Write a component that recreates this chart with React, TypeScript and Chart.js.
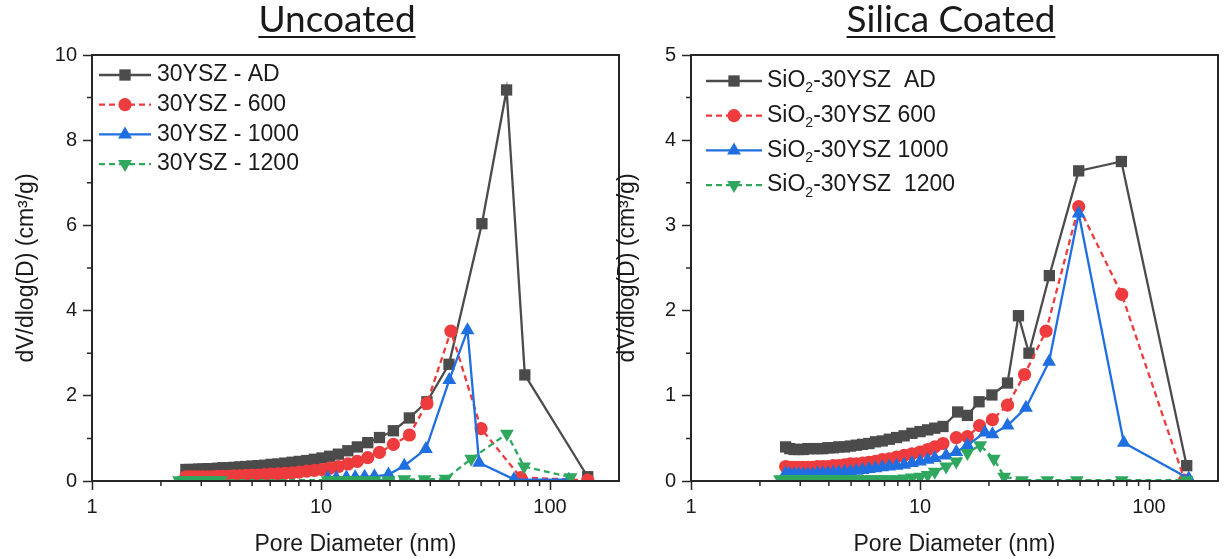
import React, { useEffect, useRef } from 'react';
import { Chart, registerables } from 'chart.js';

Chart.register(...registerables);

// ---------------- data ----------------
const LEFT_AD_X = [2.57, 2.67, 2.79, 2.92, 3.05, 3.2, 3.36, 3.54, 3.73, 3.94, 4.17, 4.42, 4.69, 4.99, 5.31, 5.67, 6.05, 6.49, 6.95, 7.48, 8.04, 8.67, 9.36, 10.1, 10.9, 11.9, 13.1, 14.4, 16.0, 18.0, 20.7, 24.3, 29.0, 36.2, 50.4, 64.6, 77.6, 146];
const LEFT_AD_Y = [0.27, 0.27, 0.27, 0.28, 0.28, 0.29, 0.29, 0.30, 0.31, 0.31, 0.32, 0.33, 0.34, 0.35, 0.36, 0.37, 0.39, 0.40, 0.42, 0.44, 0.46, 0.48, 0.51, 0.54, 0.58, 0.63, 0.71, 0.80, 0.90, 1.02, 1.18, 1.48, 1.86, 2.74, 6.04, 9.18, 2.49, 0.10];

const LEFT_600_X = [2.57, 2.67, 2.79, 2.92, 3.05, 3.2, 3.36, 3.54, 3.73, 3.94, 4.17, 4.42, 4.69, 4.99, 5.31, 5.67, 6.05, 6.49, 6.95, 7.48, 8.04, 8.67, 9.36, 10.1, 10.9, 11.9, 13.1, 14.4, 16.0, 18.0, 20.7, 24.3, 29.0, 36.9, 50.0, 74.5, 146];
const LEFT_600_Y = [0.10, 0.10, 0.10, 0.10, 0.10, 0.10, 0.10, 0.11, 0.11, 0.11, 0.12, 0.12, 0.13, 0.14, 0.14, 0.15, 0.16, 0.17, 0.18, 0.19, 0.21, 0.23, 0.25, 0.27, 0.30, 0.34, 0.40, 0.46, 0.55, 0.67, 0.86, 1.08, 1.82, 3.52, 1.23, 0.08, 0.02];

const LEFT_1000_X = [10.7, 11.65, 12.9, 14.1, 15.5, 17.1, 19.7, 23.1, 28.7, 36.3, 43.6, 49.0, 69.6, 120.8];
const LEFT_1000_Y = [0.07, 0.07, 0.08, 0.09, 0.10, 0.11, 0.15, 0.36, 0.75, 2.37, 3.54, 0.43, 0.04, 0.03];

const LEFT_1200_X = [2.40, 2.52, 2.65, 2.79, 2.94, 3.10, 3.27, 3.46, 3.66, 10.7, 11.65, 12.9, 14.1, 15.5, 17.1, 19.7, 23.1, 28.3, 35.0, 45.3, 64.8, 77.0, 123];
const LEFT_1200_Y = [0.02, 0.02, 0.02, 0.02, 0.02, 0.02, 0.02, 0.02, 0.02, 0.02, 0.02, 0.02, 0.02, 0.02, 0.02, 0.02, 0.04, 0.04, 0.05, 0.52, 1.11, 0.34, 0.09];

const RIGHT_AD_X = [2.59, 2.70, 2.82, 2.95, 3.09, 3.24, 3.40, 3.57, 3.76, 3.96, 4.18, 4.42, 4.68, 4.96, 5.27, 5.61, 5.98, 6.39, 6.84, 7.34, 7.90, 8.52, 9.22, 10.0, 10.8, 11.6, 12.6, 14.6, 16.1, 18.1, 20.6, 24.1, 26.9, 29.9, 36.7, 49.3, 75.7, 146];
const RIGHT_AD_Y = [0.40, 0.38, 0.37, 0.37, 0.37, 0.38, 0.38, 0.38, 0.38, 0.39, 0.39, 0.40, 0.40, 0.41, 0.42, 0.43, 0.44, 0.46, 0.47, 0.49, 0.51, 0.53, 0.56, 0.58, 0.60, 0.62, 0.64, 0.81, 0.77, 0.93, 1.01, 1.15, 1.94, 1.50, 2.41, 3.64, 3.75, 0.18];

const RIGHT_600_X = [2.59, 2.70, 2.82, 2.95, 3.09, 3.24, 3.40, 3.57, 3.76, 3.96, 4.18, 4.42, 4.68, 4.96, 5.27, 5.61, 5.98, 6.39, 6.84, 7.34, 7.90, 8.52, 9.22, 10.0, 10.8, 11.6, 12.6, 14.4, 16.1, 18.2, 20.7, 24.1, 28.6, 35.5, 49.3, 76.0, 143];
const RIGHT_600_Y = [0.17, 0.16, 0.16, 0.16, 0.16, 0.16, 0.16, 0.17, 0.17, 0.17, 0.18, 0.18, 0.19, 0.20, 0.20, 0.21, 0.22, 0.23, 0.25, 0.26, 0.28, 0.30, 0.32, 0.34, 0.37, 0.40, 0.44, 0.51, 0.52, 0.65, 0.72, 0.89, 1.25, 1.76, 3.22, 2.19, 0.01];

const RIGHT_1000_X = [2.59, 2.70, 2.82, 2.95, 3.09, 3.24, 3.40, 3.57, 3.76, 3.96, 4.18, 4.42, 4.68, 4.96, 5.27, 5.61, 5.98, 6.39, 6.84, 7.34, 7.90, 8.52, 9.22, 10.0, 10.8, 11.6, 13.0, 14.4, 16.1, 19.2, 20.7, 24.1, 29.0, 36.6, 49.3, 77.6, 149];
const RIGHT_1000_Y = [0.09, 0.08, 0.08, 0.08, 0.08, 0.08, 0.08, 0.09, 0.09, 0.09, 0.10, 0.10, 0.11, 0.11, 0.12, 0.13, 0.14, 0.15, 0.16, 0.17, 0.18, 0.19, 0.21, 0.23, 0.25, 0.27, 0.30, 0.34, 0.42, 0.57, 0.55, 0.65, 0.86, 1.40, 3.14, 0.45, 0.03];

const RIGHT_1200_X = [2.45, 2.59, 2.70, 2.82, 2.95, 3.09, 3.24, 3.40, 3.57, 3.76, 3.96, 4.18, 4.42, 4.68, 4.96, 5.27, 5.61, 5.98, 6.39, 6.84, 7.34, 7.90, 8.52, 9.22, 10.0, 10.8, 11.6, 13.0, 14.4, 16.1, 18.3, 21.0, 23.3, 27.9, 36.0, 48.4, 76.0, 146];
const RIGHT_1200_Y = [0.02, 0.02, 0.02, 0.02, 0.02, 0.02, 0.02, 0.02, 0.02, 0.02, 0.02, 0.02, 0.02, 0.02, 0.02, 0.02, 0.02, 0.02, 0.02, 0.02, 0.02, 0.02, 0.03, 0.04, 0.05, 0.07, 0.11, 0.17, 0.23, 0.33, 0.42, 0.26, 0.05, 0.01, 0.01, 0.01, 0.01, 0.01];

const LEFT_LABELS = ['30YSZ - AD', '30YSZ - 600', '30YSZ - 1000', '30YSZ - 1200'];
const RIGHT_LABELS = ['SiO\u2082-30YSZ  AD', 'SiO\u2082-30YSZ 600', 'SiO\u2082-30YSZ 1000', 'SiO\u2082-30YSZ  1200'];

const LEFT_TITLE = 'Uncoated';
const RIGHT_TITLE = 'Silica Coated';
const X_TITLE = 'Pore Diameter (nm)';
const Y_TITLE = 'dV/dlog(D) (cm\u00b3/g)';

const X_MAJOR = [1, 10, 100];
const X_MINOR = [2, 3, 4, 5, 6, 7, 8, 9, 20, 30, 40, 50, 60, 70, 80, 90];
const LEFT_Y_TICKS = [0, 2, 4, 6, 8, 10];
const LEFT_Y_MINOR = [1, 3, 5, 7, 9];
const RIGHT_Y_TICKS = [0, 1, 2, 3, 4, 5];
const RIGHT_Y_MINOR = [0.5, 1.5, 2.5, 3.5, 4.5];

// ---------------- styles ----------------
const STYLES = [
  { color: '#4b4b4b', dash: [] as number[], marker: 'rect', r: 8, rot: 0 },
  { color: '#ee3b3d', dash: [6, 4], marker: 'circle', r: 6.6, rot: 0 },
  { color: '#1f6fe0', dash: [] as number[], marker: 'triangle', r: 8, rot: 0 },
  { color: '#2fa75e', dash: [6, 4], marker: 'triangle', r: 8, rot: 180 },
];

const AXIS_COLOR = '#262626';
const TEXT_COLOR = '#1a1a1a';
const SANS = '"Liberation Sans", Arial, sans-serif';
const LINE_W = 2.3;
const H = 559;

function drawMarker(ctx: CanvasRenderingContext2D, s: any, x: number, y: number) {
  ctx.fillStyle = s.color;
  ctx.beginPath();
  if (s.marker === 'rect') {
    const h = s.r * Math.SQRT1_2;
    ctx.rect(x - h, y - h, 2 * h, 2 * h);
  } else if (s.marker === 'circle') {
    ctx.arc(x, y, s.r, 0, Math.PI * 2);
  } else {
    let rad = (s.rot * Math.PI) / 180;
    ctx.moveTo(x + Math.sin(rad) * s.r, y - Math.cos(rad) * s.r);
    rad += (2 * Math.PI) / 3;
    ctx.lineTo(x + Math.sin(rad) * s.r, y - Math.cos(rad) * s.r);
    rad += (2 * Math.PI) / 3;
    ctx.lineTo(x + Math.sin(rad) * s.r, y - Math.cos(rad) * s.r);
    ctx.closePath();
  }
  ctx.fill();
}

function makeDecor(cfg: any) {
  return {
    id: 'decor',
    afterDraw(chart: any) {
      const { ctx, chartArea: a } = chart;
      const xs = chart.scales.x;
      const ys = chart.scales.y;
      ctx.save();
      // frame
      ctx.strokeStyle = AXIS_COLOR;
      ctx.lineWidth = 2;
      ctx.setLineDash([]);
      ctx.strokeRect(a.left, a.top, a.right - a.left, a.bottom - a.top);
      // minor ticks
      ctx.lineWidth = 1.5;
      ctx.beginPath();
      for (const v of X_MINOR) {
        const px = xs.getPixelForValue(v);
        ctx.moveTo(px, a.bottom);
        ctx.lineTo(px, a.bottom + 5);
      }
      for (const v of cfg.yMinor) {
        const py = ys.getPixelForValue(v);
        ctx.moveTo(a.left - 5, py);
        ctx.lineTo(a.left, py);
      }
      ctx.stroke();
      // title with underline
      ctx.fillStyle = TEXT_COLOR;
      ctx.font = `${cfg.titleSize}px Lato, "Open Sans", sans-serif`;
      ctx.textAlign = 'center';
      ctx.textBaseline = 'alphabetic';
      ctx.fillText(cfg.title, cfg.titleX, cfg.titleY);
      const tw = ctx.measureText(cfg.title).width;
      ctx.fillRect(cfg.titleX - tw / 2, cfg.titleY + 4, tw, 2);
      // legend
      const L = cfg.legend;
      cfg.labels.forEach((label: string, i: number) => {
        const s = STYLES[i];
        const y = L.y0 + i * L.dy;
        ctx.strokeStyle = s.color;
        ctx.lineWidth = LINE_W;
        ctx.setLineDash(s.dash);
        ctx.beginPath();
        ctx.moveTo(L.x0, y);
        ctx.lineTo(L.x1, y);
        ctx.stroke();
        ctx.setLineDash([]);
        drawMarker(ctx, s, (L.x0 + L.x1) / 2, y);
        ctx.fillStyle = TEXT_COLOR;
        ctx.textAlign = 'left';
        ctx.textBaseline = 'middle';
        const parts = label.split('\u2082');
        let tx = L.tx;
        parts.forEach((p, k) => {
          ctx.font = `${L.size}px ${SANS}`;
          ctx.fillText(p, tx, y);
          tx += ctx.measureText(p).width;
          if (k < parts.length - 1) {
            ctx.font = `${Math.round(L.size * 0.62)}px ${SANS}`;
            ctx.fillText('2', tx, y + L.size * 0.33);
            tx += ctx.measureText('2').width;
          }
        });
      });
      ctx.restore();
    },
  };
}

function buildDatasets(series: [number[], number[]][], labels: string[]) {
  return series.map(([xs, ys], i) => {
    const s = STYLES[i];
    return {
      label: labels[i],
      data: xs.map((x, k) => ({ x, y: ys[k] })),
      borderColor: s.color,
      backgroundColor: s.color,
      borderWidth: LINE_W,
      borderDash: s.dash,
      pointStyle: s.marker,
      pointRadius: s.r,
      pointRotation: s.rot,
      pointBorderWidth: 0,
      pointBackgroundColor: s.color,
      pointBorderColor: s.color,
      tension: 0,
      fill: false,
      order: 4 - i,
    };
  });
}

function Panel({ cfg }: { cfg: any }) {
  const ref = useRef<HTMLCanvasElement>(null);
  useEffect(() => {
    const chart = new Chart(ref.current as HTMLCanvasElement, {
      type: 'line',
      data: { datasets: buildDatasets(cfg.series, cfg.labels) as any },
      options: {
        animation: false,
        responsive: false,
        devicePixelRatio: 1,
        layout: { padding: { left: 0, top: 55, right: cfg.w - 619, bottom: 0 } },
        plugins: { legend: { display: false }, tooltip: { enabled: false }, title: { display: false } },
        scales: {
          x: {
            type: 'logarithmic',
            min: 1,
            max: 200,
            afterBuildTicks: (s: any) => {
              s.ticks = X_MAJOR.map((v) => ({ value: v, major: true }));
            },
            afterFit: (s: any) => {
              s.height = H - 481;
            },
            ticks: {
              autoSkip: false,
              maxRotation: 0,
              padding: 5,
              color: TEXT_COLOR,
              font: { family: SANS, size: 20 },
              callback: (v: any) => String(v),
            },
            grid: { drawOnChartArea: false, drawTicks: true, tickLength: 9, tickWidth: 1.5, tickColor: AXIS_COLOR },
            border: { display: false },
            title: {
              display: true,
              text: X_TITLE,
              color: TEXT_COLOR,
              font: { family: SANS, size: 23 },
              padding: { top: 0, bottom: 1 },
            },
          },
          y: {
            type: 'linear',
            min: 0,
            max: cfg.yMax,
            afterBuildTicks: (s: any) => {
              s.ticks = cfg.yTicks.map((v: number) => ({ value: v }));
            },
            afterFit: (s: any) => {
              s.width = 92;
            },
            ticks: {
              padding: 6,
              color: TEXT_COLOR,
              font: { family: SANS, size: 20 },
              callback: (v: any) => String(v),
            },
            grid: { drawOnChartArea: false, drawTicks: true, tickLength: 9, tickWidth: 1.5, tickColor: AXIS_COLOR },
            border: { display: false },
            title: {
              display: true,
              text: Y_TITLE,
              color: TEXT_COLOR,
              font: { family: SANS, size: 23 },
              padding: { top: cfg.yTitlePad, bottom: 0 },
            },
          },
        },
      } as any,
      plugins: [makeDecor(cfg)],
    });
    return () => chart.destroy();
  }, []);
  return (
    <canvas
      ref={ref}
      width={cfg.w}
      height={H}
      style={{ position: 'absolute', left: cfg.left, top: 0, width: cfg.w, height: H }}
    />
  );
}

const LEFT_CFG = {
  left: 0,
  w: 640,
  yMax: 10,
  yTicks: LEFT_Y_TICKS,
  yMinor: LEFT_Y_MINOR,
  yTitlePad: 13,
  title: LEFT_TITLE,
  titleX: 337,
  titleY: 32,
  titleSize: 37,
  labels: LEFT_LABELS,
  series: [
    [LEFT_AD_X, LEFT_AD_Y],
    [LEFT_600_X, LEFT_600_Y],
    [LEFT_1000_X, LEFT_1000_Y],
    [LEFT_1200_X, LEFT_1200_Y],
  ],
  legend: { x0: 99, x1: 151, tx: 157, y0: 75, dy: 29.7, size: 23 },
};

const RIGHT_CFG = {
  left: 599,
  w: 630,
  yMax: 5,
  yTicks: RIGHT_Y_TICKS,
  yMinor: RIGHT_Y_MINOR,
  yTitlePad: 15,
  title: RIGHT_TITLE,
  titleX: 951 - 599,
  titleY: 32,
  titleSize: 37,
  labels: RIGHT_LABELS,
  series: [
    [RIGHT_AD_X, RIGHT_AD_Y],
    [RIGHT_600_X, RIGHT_600_Y],
    [RIGHT_1000_X, RIGHT_1000_Y],
    [RIGHT_1200_X, RIGHT_1200_Y],
  ],
  legend: { x0: 107, x1: 163, tx: 168, y0: 81, dy: 34.7, size: 23 },
};

export default function App() {
  return (
    <div
      style={{
        position: 'absolute',
        left: 0,
        top: 0,
        width: 1229,
        height: H,
        overflow: 'hidden',
        background: '#ffffff',
      }}
    >
      <Panel cfg={LEFT_CFG} />
      <Panel cfg={RIGHT_CFG} />
    </div>
  );
}
